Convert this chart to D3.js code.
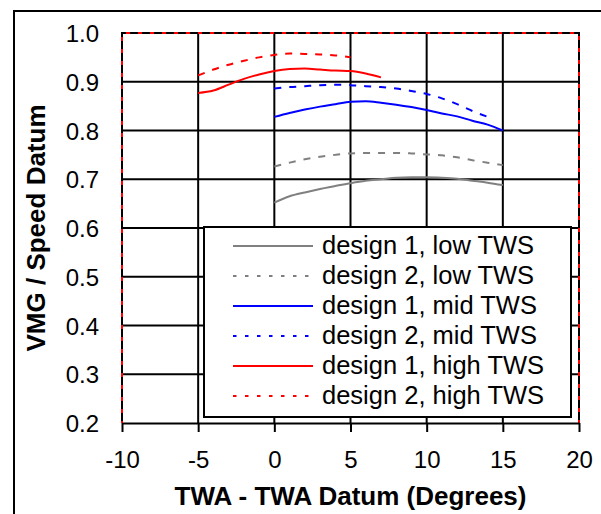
<!DOCTYPE html>
<html>
<head>
<meta charset="utf-8">
<script src="https://cdn.jsdelivr.net/npm/d3@7"></script>
<style>
  html, body { margin: 0; padding: 0; background: #fff; }
  svg { display: block; }
  text { font-family: "Liberation Sans", Arial, sans-serif; fill: #000; }
</style>
</head>
<body>
<svg id="chart" width="601" height="514"></svg>
<script>
// TWA offsets (degrees from the datum) and VMG ratios for each design / wind speed
const twaLow = [0, 1, 2, 3, 4, 5, 6, 7, 8, 9, 10, 11, 12, 13, 14, 15];
const d1Low = [0.652, 0.665, 0.673, 0.680, 0.686, 0.692, 0.697, 0.700, 0.703, 0.704, 0.704, 0.703, 0.701, 0.697, 0.693, 0.688];
const d2Low = [0.726, 0.734, 0.741, 0.746, 0.750, 0.753, 0.754, 0.754, 0.754, 0.753, 0.751, 0.749, 0.745, 0.739, 0.734, 0.729];

const twaMid1 = [0, 1, 2, 3, 4, 5, 6, 7, 8, 9, 10, 11, 12, 13, 14, 15];
const d1Mid = [0.828, 0.836, 0.843, 0.849, 0.854, 0.859, 0.860, 0.857, 0.853, 0.848, 0.842, 0.835, 0.829, 0.820, 0.812, 0.800];
const twaMid2 = [0, 1, 2, 3, 4, 5, 6, 7, 8, 9, 10, 11, 12, 13, 14];
const d2Mid = [0.886, 0.889, 0.891, 0.893, 0.894, 0.893, 0.891, 0.889, 0.886, 0.881, 0.875, 0.866, 0.854, 0.840, 0.828];

const twaHigh1 = [-5, -4, -3, -2, -1, 0, 1, 2, 3, 4, 5, 6, 7];
const d1High = [0.877, 0.882, 0.894, 0.906, 0.915, 0.922, 0.926, 0.927, 0.925, 0.923, 0.922, 0.917, 0.909];
const twaHigh2 = [-5, -4, -3, -2, -1, 0, 1, 2, 3, 4, 5];
const d2High = [0.913, 0.925, 0.935, 0.943, 0.950, 0.955, 0.958, 0.957, 0.956, 0.954, 0.950];

const seriesNames = ["design 1, low TWS", "design 2, low TWS", "design 1, mid TWS",
                     "design 2, mid TWS", "design 1, high TWS", "design 2, high TWS"];
const seriesColors = ["#808080", "#808080", "#0000ff", "#0000ff", "#ff0000", "#ff0000"];
const seriesDashed = [false, true, false, true, false, true];

const xTicks = [-10, -5, 0, 5, 10, 15, 20];
const yTicks = [0.2, 0.3, 0.4, 0.5, 0.6, 0.7, 0.8, 0.9, 1.0];

const seriesData = [
  [twaLow, d1Low], [twaLow, d2Low], [twaMid1, d1Mid],
  [twaMid2, d2Mid], [twaHigh1, d1High], [twaHigh2, d2High]
];

const svg = d3.select("#chart");

// outer chart frame (continues past the right and bottom edges)
svg.append("rect")
  .attr("x", 14).attr("y", 11).attr("width", 620).attr("height", 530)
  .attr("fill", "none").attr("stroke", "#000").attr("stroke-width", 2);

const plot = { left: 122, right: 579, top: 33, bottom: 423 };
const x = d3.scaleLinear().domain([-10, 20]).range([plot.left, plot.right]);
const y = d3.scaleLinear().domain([0.2, 1.0]).range([plot.bottom, plot.top]);

// gridlines
const grid = svg.append("g");
grid.selectAll("line.v")
  .data(xTicks.filter(d => d > -10 && d < 20))
  .join("line")
  .attr("x1", d => x(d)).attr("x2", d => x(d))
  .attr("y1", plot.top).attr("y2", plot.bottom)
  .attr("stroke", "#000").attr("stroke-width", 2);
grid.selectAll("line.h")
  .data(yTicks.filter(d => d > 0.2 && d < 1.0))
  .join("line")
  .attr("x1", plot.left).attr("x2", plot.right)
  .attr("y1", d => y(d)).attr("y2", d => y(d))
  .attr("stroke", "#000").attr("stroke-width", 2);

// plot-area border: black edge with red dashes on top, left and right
const borderPath = `M${plot.left},${plot.bottom}V${plot.top}H${plot.right}V${plot.bottom}`;
svg.append("path").attr("d", borderPath)
  .attr("fill", "none").attr("stroke", "#000").attr("stroke-width", 2);
svg.append("path").attr("d", borderPath)
  .attr("fill", "none").attr("stroke", "#ff0000").attr("stroke-width", 2)
  .attr("stroke-dasharray", "4,8").attr("stroke-dashoffset", -10);

// x axis with ticks below the plot
const xAxis = d3.axisBottom(x).tickValues(xTicks).tickSize(9).tickSizeOuter(0)
  .tickFormat(d => String(d));
const gx = svg.append("g").attr("transform", `translate(0,${plot.bottom})`).call(xAxis);
gx.select(".domain").attr("stroke", "#000").attr("stroke-width", 2);
gx.selectAll(".tick line").attr("stroke", "#000").attr("stroke-width", 2);
gx.selectAll(".tick text")
  .attr("y", 45).attr("dy", null)
  .style("font-size", "24px").style("font-family", "'Liberation Sans', Arial, sans-serif")
  .attr("fill", "#000");

// y axis labels
const yAxis = d3.axisLeft(y).tickValues(yTicks).tickSize(0).tickPadding(23)
  .tickFormat(d3.format(".1f"));
const gy = svg.append("g").attr("transform", `translate(${plot.left},0)`).call(yAxis);
gy.select(".domain").remove();
gy.selectAll(".tick text")
  .attr("dy", "0.36em")
  .style("font-size", "24px").style("font-family", "'Liberation Sans', Arial, sans-serif")
  .attr("fill", "#000");

// data curves
const line = d3.line().x(d => x(d[0])).y(d => y(d[1])).curve(d3.curveMonotoneX);
seriesData.forEach(([xs, vs], i) => {
  svg.append("path")
    .datum(xs.map((t, k) => [t, vs[k]]))
    .attr("d", line)
    .attr("fill", "none")
    .attr("stroke", seriesColors[i])
    .attr("stroke-width", 2)
    .attr("stroke-dasharray", seriesDashed[i] ? "7,8" : null);
});

// legend
const legend = svg.append("g");
legend.append("rect")
  .attr("x", 204).attr("y", 227).attr("width", 367).attr("height", 190)
  .attr("fill", "#fff").attr("stroke", "#000").attr("stroke-width", 2);
seriesNames.forEach((name, i) => {
  const ly = 246 + i * 30;
  legend.append("line")
    .attr("x1", 233).attr("x2", 313).attr("y1", ly).attr("y2", ly)
    .attr("stroke", seriesColors[i]).attr("stroke-width", 2)
    .attr("stroke-dasharray", seriesDashed[i] ? "3.5,8.5" : null);
  legend.append("text")
    .attr("x", 322).attr("y", ly + 8)
    .style("font-size", "25.5px")
    .text(name);
});

// axis titles
svg.append("text")
  .attr("x", (plot.left + plot.right) / 2).attr("y", 505)
  .attr("text-anchor", "middle")
  .style("font-size", "26px").style("font-weight", "bold")
  .text("TWA - TWA Datum (Degrees)");
svg.append("text")
  .attr("transform", `translate(45,${(plot.top + plot.bottom) / 2}) rotate(-90)`)
  .attr("text-anchor", "middle")
  .style("font-size", "26px").style("font-weight", "bold")
  .text("VMG / Speed Datum");
</script>
</body>
</html>
